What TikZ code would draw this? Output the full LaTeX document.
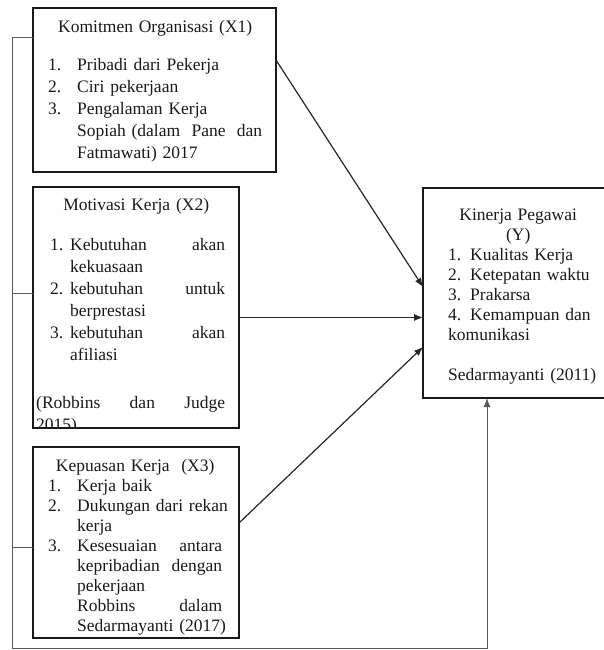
\documentclass[tikz,border=0pt]{standalone}
\usepackage{fontspec}
\setmainfont{Liberation Serif}
\usetikzlibrary{arrows.meta,positioning}

\newcommand{\baris}[1]{\noindent\makebox[\hsize][l]{\rule{0pt}{12pt}#1}\par}
\newcommand{\nomor}[2]{\makebox[#1][l]{#2}}

\begin{document}
\begin{tikzpicture}[x=1pt,y=-1pt,
    kotak/.style={draw=black!90,line width=2.2pt,inner sep=0pt,outer sep=0pt,anchor=north west},
    isi/.style={inner sep=0pt,anchor=north west,text=black!90,font=\fontsize{17.5}{22}\selectfont},
    rapat/.style={font=\fontsize{17.5}{20}\selectfont},
    ujung/.style={-{Latex[length=9pt,width=7pt]}},
    garis/.style={draw=black!65,line width=1pt},
    tebal/.style={draw=black!85,line width=1.2pt}]
    \useasboundingbox (0,0) rectangle (604,650);
    \node[kotak,minimum width=243pt,minimum height=164pt] (komitmen) at (33,8) {};
    \node[kotak,minimum width=206pt,minimum height=241pt] (motivasi) at (33,187) {};
    \node[kotak,minimum width=206pt,minimum height=191pt] (kepuasan) at (33,447) {};
    \node[kotak,minimum width=220pt,minimum height=210pt] (kinerja) at (423,188) {};
    \node[isi,text width=214pt] (komitmenIsi) at ([xshift=15pt,yshift=-12pt]komitmen.north west) {%
        \baris{\hfill Komitmen Organisasi (X1)\hfill}
        \vspace{16pt}
        \baris{\nomor{29pt}{1.}Pribadi dari Pekerja}
        \baris{\nomor{29pt}{2.}Ciri pekerjaan}
        \baris{\nomor{29pt}{3.}Pengalaman Kerja}
        \baris{\hspace*{29pt}Sopiah (dalam\hfill Pane\hfill dan}
        \baris{\hspace*{29pt}Fatmawati) 2017}};
    \begin{scope}
        \clip (motivasi.north west) rectangle (motivasi.south east);
        \node[isi,text width=189pt] (motivasiIsi) at ([xshift=3pt,yshift=-11pt]motivasi.north west) {%
            \baris{\hfill\hspace{11pt}Motivasi Kerja (X2)\hfill}
            \vspace{18pt}
            \baris{\hspace*{14pt}\nomor{20pt}{1.}Kebutuhan\hfill akan}
            \baris{\hspace*{34pt}kekuasaan}
            \baris{\hspace*{14pt}\nomor{20pt}{2.}kebutuhan\hfill untuk}
            \baris{\hspace*{34pt}berprestasi}
            \baris{\hspace*{14pt}\nomor{20pt}{3.}kebutuhan\hfill akan}
            \baris{\hspace*{34pt}afiliasi}
            \vspace{26pt}
            \baris{(Robbins\hfill dan\hfill Judge}
            \baris{2015)}};
    \end{scope}
    \node[isi,rapat,text width=174pt] (kepuasanIsi) at ([xshift=15pt,yshift=-12pt]kepuasan.north west) {%
        \baris{\hfill Kepuasan Kerja\ \ (X3)\hfill}
        \baris{\nomor{29pt}{1.}Kerja baik}
        \baris{\nomor{29pt}{2.}Dukungan dari rekan}
        \baris{\hspace*{29pt}kerja}
        \baris{\nomor{29pt}{3.}Kesesuaian\hfill antara}
        \baris{\hspace*{29pt}kepribadian\hfill dengan}
        \baris{\hspace*{29pt}pekerjaan}
        \baris{\hspace*{29pt}Robbins\hfill dalam}
        \baris{\hspace*{29pt}Sedarmayanti (2017)}};
    \node[isi,rapat,text width=140pt] (kinerjaIsi) at ([xshift=25pt,yshift=-20pt]kinerja.north west) {%
        \baris{\hfill Kinerja Pegawai\hfill}
        \baris{\hfill (Y)\hfill}
        \baris{\nomor{22pt}{1.}Kualitas Kerja}
        \baris{\nomor{22pt}{2.}Ketepatan waktu}
        \baris{\nomor{22pt}{3.}Prakarsa}
        \baris{\nomor{22pt}{4.}Kemampuan dan}
        \baris{komunikasi}
        \vspace{20pt}
        \baris{Sedarmayanti (2011)}};
    \coordinate (sudut) at (12,648);
    \draw[garis] ([yshift=-30pt]komitmen.north west) -| (sudut);
    \draw[garis] ([yshift=14.5pt]motivasi.west) -| (sudut);
    \draw[garis] ([yshift=-4.5pt]kepuasan.west) -| (sudut);
    \draw[garis,ujung] (sudut) -| ([xshift=64pt]kinerja.south west);
    \draw[tebal,ujung] ([yshift=-52pt]komitmen.north east) -- ([yshift=6pt]kinerja.west);
    \draw[tebal,ujung] ([yshift=-10pt]motivasi.east) coordinate (m2) -- (m2 -| kinerja.west);
    \draw[tebal,ujung] ([yshift=19.5pt]kepuasan.east) -- ([yshift=-54pt]kinerja.west);
\end{tikzpicture}
\end{document}
